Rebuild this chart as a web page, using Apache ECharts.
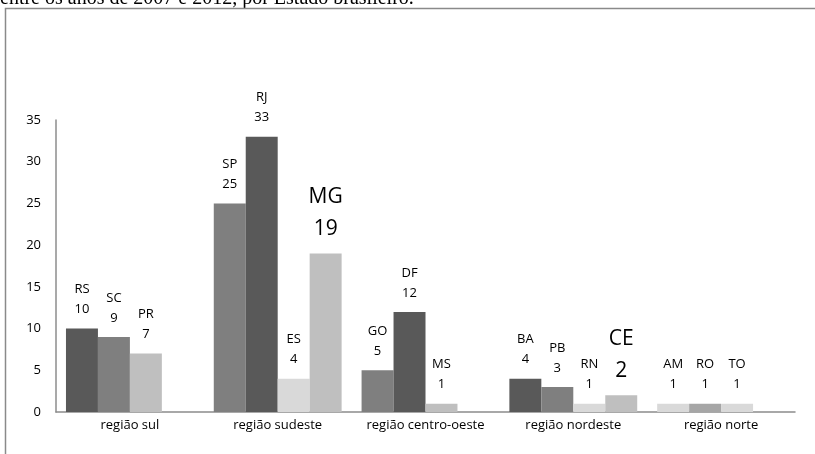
<!DOCTYPE html>
<html>
<head>
<meta charset="utf-8">
<script src="https://cdn.jsdelivr.net/npm/echarts@6/dist/echarts.min.js"></script>
<style>
  html, body { margin: 0; padding: 0; background: #fff; }
  #chart { width: 815px; height: 454px; }
</style>
</head>
<body>
<div id="chart"></div>
<script>
// Regions on the category axis
const regions = ['região sul', 'região sudeste', 'região centro-oeste', 'região nordeste', 'região norte'];

// Four bar slots per region: state abbreviations and counts
const slot1States = ['RS', 'SP', 'GO', 'BA', 'AM'];
const slot1Values = [10, 25, 5, 4, 1];
const slot2States = ['SC', 'RJ', 'DF', 'PB', 'RO'];
const slot2Values = [9, 33, 12, 3, 1];
const slot3States = ['PR', 'ES', 'MS', 'RN', 'TO'];
const slot3Values = [7, 4, 1, 1, 1];
const slot4States = [null, 'MG', null, 'CE', null];
const slot4Values = [null, 19, null, 2, null];

// Value axis ticks
const yTicks = [0, 5, 10, 15, 20, 25, 30, 35];

// Grey shade for each state's bar
const shade = {
  dark: '#595959', mid: '#7f7f7f', grey: '#a6a6a6', light: '#bfbfbf', pale: '#d9d9d9'
};
const stateShade = {
  RS: 'dark', SC: 'mid', PR: 'light',
  SP: 'mid', RJ: 'dark', ES: 'pale', MG: 'light',
  GO: 'mid', DF: 'dark', MS: 'light',
  BA: 'dark', PB: 'mid', RN: 'pale', CE: 'light',
  AM: 'pale', RO: 'grey', TO: 'pale'
};
// States whose labels are drawn in a larger type
const bigLabel = { MG: true, CE: true };

const FONT = '"Open Sans", "Noto Sans", sans-serif';

function buildSeries(states, values) {
  return {
    type: 'bar',
    barGap: '0%',
    barCategoryGap: '13.5%',
    data: values.map((v, i) => {
      const st = states[i];
      if (v == null) return null;
      const big = !!bigLabel[st];
      return {
        value: v,
        itemStyle: { color: shade[stateShade[st]] },
        label: {
          show: true,
          position: 'top',
          distance: big ? 8 : 9,
          formatter: st + '\n' + v,
          fontFamily: FONT,
          fontSize: big ? 21 : 13,
          lineHeight: big ? 32 : 20,
          color: '#000'
        }
      };
    })
  };
}

const chart = echarts.init(document.getElementById('chart'), null, { renderer: 'canvas' });
chart.setOption({
  animation: false,
  backgroundColor: '#fff',
  grid: { left: 56, right: 20, top: 120, bottom: 42, containLabel: false },
  xAxis: {
    type: 'category',
    data: regions,
    axisLine: { lineStyle: { color: '#8c8c8c', width: 1.5 } },
    axisTick: { show: false },
    axisLabel: { interval: 0, color: '#000', fontFamily: FONT, fontSize: 13, margin: 7 }
  },
  yAxis: {
    type: 'value',
    min: yTicks[0],
    max: yTicks[yTicks.length - 1],
    interval: yTicks[1] - yTicks[0],
    axisLine: { show: true, lineStyle: { color: '#8c8c8c', width: 1.5 } },
    axisTick: { show: false },
    splitLine: { show: false },
    axisLabel: { color: '#000', fontFamily: FONT, fontSize: 13, margin: 15 }
  },
  series: [
    buildSeries(slot1States, slot1Values),
    buildSeries(slot2States, slot2Values),
    buildSeries(slot3States, slot3Values),
    buildSeries(slot4States, slot4Values)
  ],
  graphic: [
    {
      type: 'text',
      x: 0,
      y: 8.5,
      silent: true,
      style: {
        text: 'entre os anos de 2007 e 2012, por Estado brasileiro.',
        font: '20px "Liberation Serif", "DejaVu Serif", serif',
        fill: '#000',
        verticalAlign: 'bottom'
      }
    },
    {
      type: 'rect',
      silent: true,
      shape: { x: 5.5, y: 8.5, width: 830, height: 470 },
      style: { fill: null, stroke: '#8a8a8a', lineWidth: 1.5 }
    }
  ]
});
</script>
</body>
</html>
